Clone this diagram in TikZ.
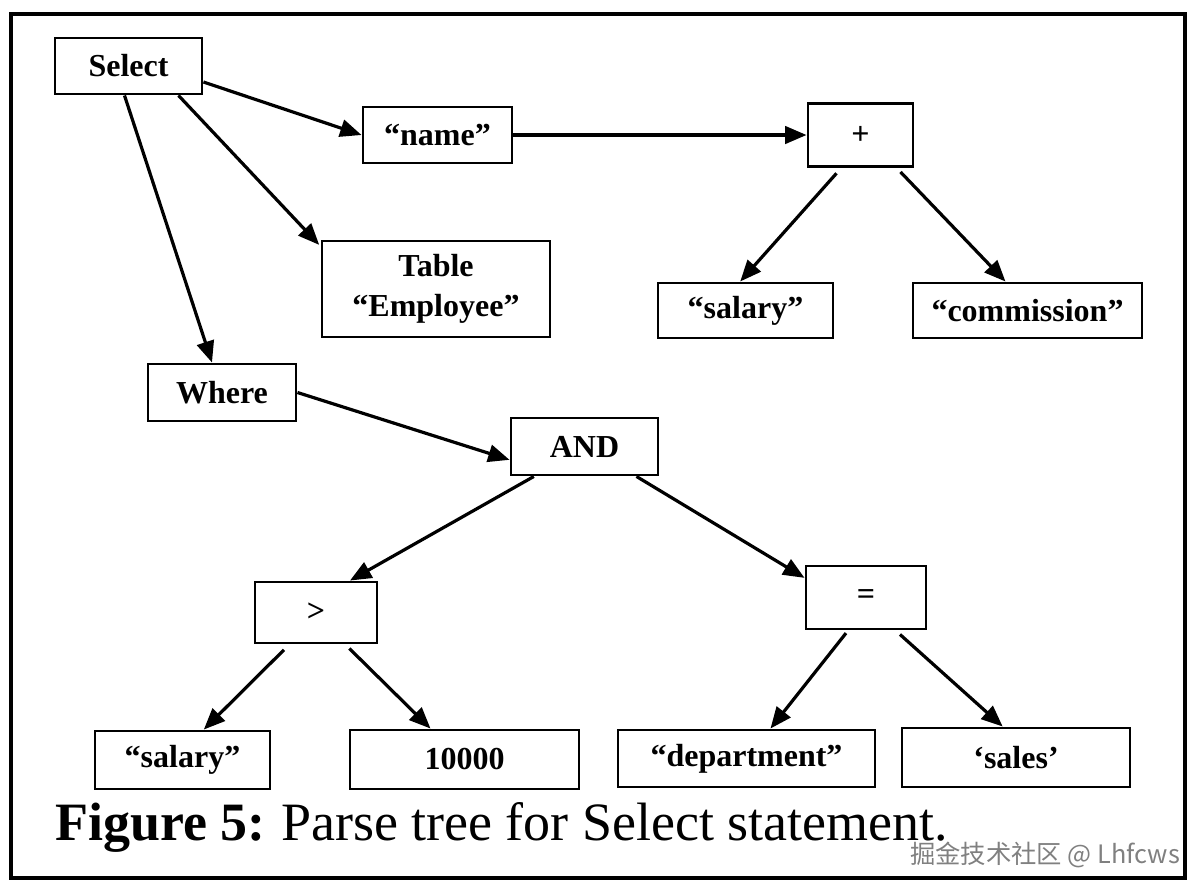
\documentclass[tikz,border=0pt]{standalone}
\usepackage{fontspec}
\setmainfont{Liberation Serif}
\newfontfamily\wmfont{Noto Sans CJK SC}
\usetikzlibrary{arrows.meta,calc}
\tikzset{
  bx/.style 2 args={draw=black, line width=2.2pt, rectangle, inner sep=0pt,
    minimum width=#1*0.75pt, minimum height=#2*0.75pt,
    font=\bfseries\fontsize{24}{27}\selectfont, align=center},
  arr/.style={line width=2.4pt, -{Triangle[length=16pt,width=13pt]}},
}
\begin{document}
\begin{tikzpicture}[x=0.75pt,y=-0.75pt]
\useasboundingbox (0,0) rectangle (1204,894);
\draw[line width=3pt] (11,14) rectangle (1185,878);

\node[bx={147}{56}] (select) at (128.5,66) {Select};
\node[bx={149}{56}] (name) at (437.5,135) {“name”};
\node[bx={105}{63}] (plus) at (860.5,135) {+};
\node[bx={228}{96}] (table) at (436,289) {Table\\[3pt]“Employee”};
\node[bx={175}{55}] (sal1) at (745.5,310.5) {“salary”};
\node[bx={229}{55}] (comm) at (1027.5,310.5) {“commission”};
\node[bx={148}{57}] (where) at (222,392.5) {Where};
\node[bx={147}{57}] (and) at (584.5,446.5) {AND};
\node[bx={122}{61}] (gt) at (316,612.5) {>};
\node[bx={120}{63}] (eq) at (866,597.5) {=};
\node[bx={175}{58}] (sal2) at (182.5,760) {“salary”};
\node[bx={229}{59}] (num) at (464.5,759.5) {10000};
\node[bx={257}{57}] (dept) at (746.5,758.5) {“department”};
\node[bx={228}{59}] (sales) at (1016,757.5) {‘sales’};

\draw[arr] ([yshift=-12pt]select.east) -- (name.west);
\draw[arr] ([xshift=37.5pt]select.south) -- ([xshift=-1pt,yshift=-4pt]table.north west);
\draw[arr] ([xshift=-3pt]select.south) -- ([xshift=-7.5pt]where.north);
\draw[arr] (name.east) -- (plus.west);
\draw[arr] ([xshift=-18pt,yshift=-4pt]plus.south) -- ([xshift=-4pt]sal1.north);
\draw[arr] ([xshift=30pt,yshift=-3pt]plus.south) -- ([xshift=-16.5pt]comm.north);
\draw[arr] (where.east) -- ([yshift=-10pt]and.west);
\draw[arr] ([xshift=-38pt]and.south) -- ([xshift=25.5pt]gt.north);
\draw[arr] ([xshift=39pt]and.south) -- ([yshift=-10pt]eq.north west);
\draw[arr] ([xshift=-24pt,yshift=-4pt]gt.south) -- ([xshift=16pt]sal2.north);
\draw[arr] ([xshift=25pt,yshift=-3pt]gt.south) -- ([xshift=-25.5pt]num.north);
\draw[arr] ([xshift=-15pt,yshift=-2pt]eq.south) -- ([xshift=18pt]dept.north);
\draw[arr] ([xshift=25.5pt,yshift=-3pt]eq.south) -- ([xshift=-10pt]sales.north);

\node[anchor=base west, inner sep=0pt, font=\fontsize{40.5}{46}\selectfont] (cap) at (55,840)
  {\textbf{Figure 5:}\hspace{-2pt} Parse tree for Select statement.};
\node[anchor=base west, inner sep=0pt, text=black!50, font=\wmfont\fontsize{19}{22}\selectfont] (wm) at (910,863)
  {掘金技术社区 @ Lhfcws};
\end{tikzpicture}
\end{document}
